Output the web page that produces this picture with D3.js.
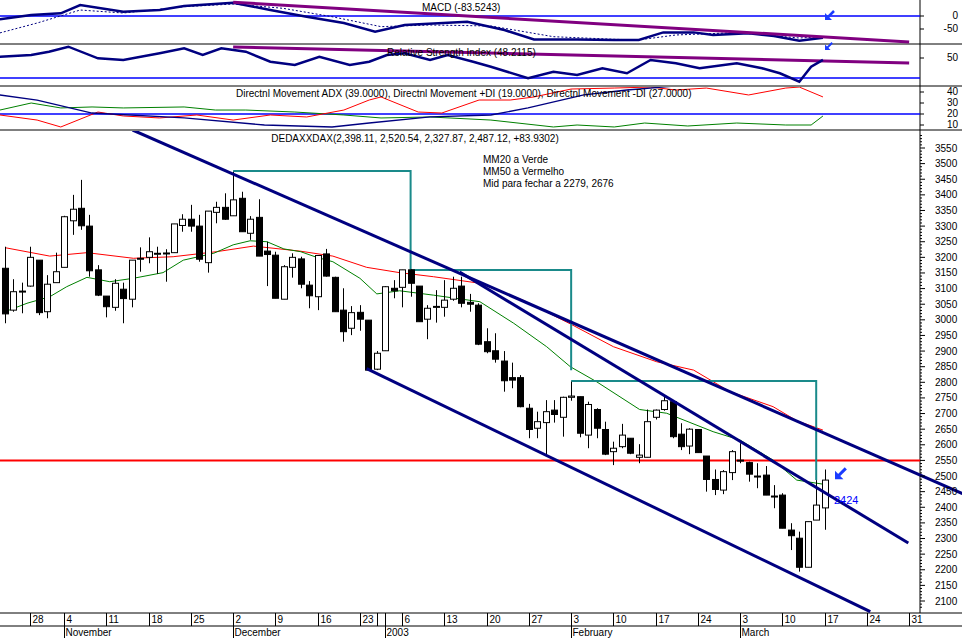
<!DOCTYPE html>
<html><head><meta charset="utf-8">
<script src="https://cdn.jsdelivr.net/npm/d3@7/dist/d3.min.js"></script>
<style>body{margin:0;background:#fff}svg{display:block;font-family:"Liberation Sans",Arial,sans-serif}</style>
</head><body><svg id="c" width="962" height="638"></svg>
<script>
// Candles: [open, high, low, close], index = trading day from Oct 23 2002
const opens  = [3165,3031,3090,3108,3191,3026,3119,3168,3317,3357,3300,3160,3076,3040,3098,3066,3196,3200,3212,3213,3215,3302,3322,3300,3183,3344,3360,3333,3389,3277,3328,3220,3207,3066,3168,3195,3111,3074,3211,3136,3031,2973,3024,2999,2842,2901,3101,3104,3160,3108,3002,3042,3040,3066,3108,3056,3047,2930,2901,2868,2815,2815,2717,2653,2671,2711,2688,2752,2754,2631,2713,2649,2578,2594,2621,2560,2560,2688,2713,2738,2634,2596,2649,2564,2489,2455,2511,2551,2543,2500,2503,2436,2439,2327,2301,2208,2359,2398];
const highs  = [3234,3130,3119,3234,3191,3143,3215,3333,3400,3448,3336,3175,3076,3130,3119,3191,3232,3264,3234,3226,3307,3338,3368,3336,3348,3378,3405,3474,3410,3332,3386,3250,3218,3175,3213,3202,3124,3207,3227,3138,3101,3044,3047,2999,2900,3108,3127,3160,3162,3108,3047,3095,3127,3138,3138,3083,3053,2973,2957,2900,2863,2823,2731,2706,2743,2743,2754,2802,2754,2738,2717,2674,2610,2667,2621,2602,2713,2713,2754,2741,2669,2653,2649,2564,2521,2519,2583,2605,2546,2541,2532,2471,2445,2349,2322,2354,2487,2521];
const lows   = [2989,3026,3021,3106,3015,3005,3119,3168,3272,3288,3138,3076,3008,3029,2989,3040,3154,3181,3147,3122,3215,3282,3282,3186,3151,3309,3320,3333,3282,3256,3204,3108,3069,3066,3135,3101,3037,3031,3138,3026,2930,2951,2965,2839,2839,2901,3069,3040,3074,2994,2938,2991,3010,3061,3040,3026,2919,2893,2863,2770,2781,2720,2621,2621,2567,2671,2626,2741,2624,2589,2621,2567,2535,2589,2570,2541,2560,2681,2709,2621,2583,2570,2575,2450,2439,2442,2487,2541,2482,2461,2439,2397,2333,2263,2194,2208,2359,2328];
const closes = [3019,3090,3092,3200,3023,3114,3154,3330,3354,3301,3157,3079,3042,3117,3068,3191,3197,3218,3213,3214,3307,3322,3300,3194,3348,3360,3322,3384,3282,3322,3204,3209,3069,3170,3200,3114,3077,3206,3140,3026,2962,3023,3002,2839,2893,3106,3093,3160,3117,2994,3037,3043,3063,3101,3053,3050,2922,2898,2874,2805,2807,2722,2649,2674,2706,2697,2752,2756,2637,2729,2653,2570,2589,2631,2573,2567,2674,2711,2741,2626,2594,2650,2575,2489,2457,2514,2578,2548,2506,2498,2439,2434,2333,2309,2208,2354,2407,2487];

// Moving averages: [day index, value]
const mm50 = [[0,3231],[5.3,3204],[9.7,3215],[15.2,3197],[19.9,3202],[25,3218],[29.4,3236],[34.9,3220],[38.8,3204],[42.8,3168],[46.7,3151],[50.7,3138],[56.2,3117],[61.3,3063],[66.9,2987],[72,2914],[77.1,2866],[81.5,2839],[85.8,2770],[90.9,2722],[93.7,2677],[96.8,2647]];
const mm20 = [[0,3026],[2.6,3053],[5.3,3074],[7.3,3106],[9.7,3136],[12.4,3122],[15.2,3133],[18.7,3151],[21.1,3191],[24.7,3213],[27,3240],[29,3253],[31,3250],[33,3227],[35,3218],[36.9,3200],[38.8,3186],[42,3133],[44,3083],[46.7,3093],[50.7,3079],[56.2,3058],[60.2,2989],[64.1,2914],[66.9,2850],[70,2802],[75.1,2713],[78.3,2701],[83.8,2642],[87,2615],[90.9,2551],[93.7,2487],[96.8,2474]];

// Indicator panels: [day index, value]
const macdLine = [[-0.6,-12.7],[3.1,3.8],[6.6,10.4],[8.9,42.3],[14,16.5],[18.3,23],[21.2,38.5],[27,51],[31.4,23],[35.7,-2.7],[40.1,-27],[43.8,-60],[47.3,-34.6],[54.7,-22],[59.1,-54],[62.6,-90],[67.7,-90],[72.1,-92],[75,-92],[77.9,-63],[81.5,-63],[83.8,-73],[88,-66.5],[91,-77],[94,-95],[96.8,-83.5]];
const macdSignal = [[-0.6,-65],[3.8,-27],[8.9,23],[14,11.5],[21.2,35.8],[27,46],[32.9,29.6],[38.7,-2.7],[44.5,-41],[50.3,-34.6],[57.5,-38.5],[64.9,-79.6],[72.1,-89.6],[75,-92],[79.4,-73],[86.6,-64],[94,-84.6],[96.8,-79.6]];
const rsi = [[-0.6,51.3],[3.1,53],[5.2,56.3],[7.5,61.3],[11,49.7],[14,48],[18.3,54.7],[21.2,59.7],[23.4,53],[25.6,59.7],[28.5,56.3],[31.4,46.3],[34.3,43],[37.2,51.3],[40.8,43],[43.1,46.3],[45.2,53],[47.3,54.7],[50.3,48],[52.4,53],[55.4,46.3],[57.5,41.3],[61.9,29.7],[64.9,36.3],[67.7,33],[70.7,39.7],[73.6,34.7],[76.4,48],[79.4,44.7],[82.2,39.7],[86.6,44.7],[89.6,39.7],[91.7,34.7],[94,26.3],[95.4,41.3],[96.8,48.2]];
const adx = [[-0.6,37.3],[3.8,32.7],[10.3,20.9],[21.2,16.4],[30.7,10],[38.7,8.2],[43.1,11.8],[50.3,17.3],[57.5,19.1],[61.9,25.5],[68.5,37.3],[73.6,41.8],[79.4,45.5],[90.3,45.5],[94,49],[96.8,46.4]];
const plusDI = [[-0.6,23.6],[3.1,30],[6.6,25.5],[10.3,26.4],[14,25.5],[21.2,26.4],[24.9,23.6],[28.5,23.6],[34.3,21.8],[40.1,19.1],[44.5,16.4],[50.3,17.3],[57.5,14.5],[64.9,8.2],[67.7,10],[72.1,8.2],[75.7,11.8],[80.8,9.1],[86.6,11.8],[92.4,10],[95.4,10],[96.8,18.2]];
const minusDI = [[-0.6,19.1],[3.8,14.5],[6.6,8.2],[11,21.8],[14,18.2],[18.3,16.4],[22.7,19.1],[27,14.5],[31.4,19.1],[35.7,17.3],[40.1,23.6],[43.1,32.7],[44.5,35.5],[48.9,21.8],[51.7,20.9],[56.1,32.7],[59.8,32.7],[62.6,35.5],[67,42.7],[72.1,43.6],[76.4,44.5],[79.4,41.8],[83,43.6],[88,37.3],[92.4,43.6],[94,44.5],[96.8,35.5]];

// Drawn annotations: endpoints as [day index, value]
const trendLines = [[[15.1,3607.6],[113.3,2443.7]],[[53.8,3153],[106.9,2285.6]],[[42.8,2843.9],[102.4,2065.7]]];
const stepBoxes = [[[27,3476],[48,3476],[48,3159.5],[67,3159.5],[67,2839]],[[67,2804],[96,2804],[96,2487]]];
const macdTrend = [[27,53],[107,-100]];
const rsiTrend = [[27,61],[107,45]];
const resistance = 2550;

const priceTicks = d3.range(2100, 3551, 50);
const weekTicks = [[3,"28"],[7,"4"],[12,"11"],[17,"18"],[22,"25"],[27,"2"],[32,"9"],[37,"16"],[42,"23"],[44,""],[45,""],[47,"6"],[52,"13"],[57,"20"],[62,"27"],[67,"3"],[72,"10"],[77,"17"],[82,"24"],[87,"3"],[92,"10"],[97,"17"],[102,"24"],[107,"31"]];
const monthTicks = [[7,"November"],[27,"December"],[45,"2003"],[67,"February"],[87,"March"]];

const svg = d3.select("#c");
const W = 920;
const x = d3.scaleLinear().domain([0,97]).range([5,824.65]);
const y = d3.scaleLinear().domain([2100,3550]).range([601,148]);
const yM = d3.scaleLinear().domain([-50,0]).range([29,16]);
const yR = d3.scaleLinear().domain([30,50]).range([78,58]);
const yD = d3.scaleLinear().domain([10,40]).range([125,92]);
const NAVY="#000080";

const defs = svg.append("defs");
[["cm",0,0,962,44],["cr",0,44,W,42],["cd",0,87,W,43],["cmain",0,131,962,482]].forEach(c=>
  defs.append("clipPath").attr("id",c[0]).append("rect").attr("x",c[1]).attr("y",c[2]).attr("width",c[3]).attr("height",c[4]));

// panel separators
[44,86,130,613,626].forEach(v=>svg.append("line").attr("x1",0).attr("x2",962).attr("y1",v).attr("y2",v).attr("stroke","#000"));
svg.append("line").attr("x1",W).attr("x2",W).attr("y1",0).attr("y2",613).attr("stroke","#000");

const ln = (sy)=>d3.line().x(d=>x(d[0])).y(d=>sy(d[1]));

// MACD panel
const gM = svg.append("g").attr("clip-path","url(#cm)");
gM.append("line").attr("x1",0).attr("x2",W).attr("y1",yM(0)).attr("y2",yM(0)).attr("stroke","#0000ff").attr("stroke-width",1.5);
gM.append("path").attr("d",ln(yM)(macdSignal)).attr("fill","none").attr("stroke",NAVY).attr("stroke-dasharray","2,2");
gM.append("path").attr("d",ln(yM)(macdLine)).attr("fill","none").attr("stroke",NAVY).attr("stroke-width",2.5);
gM.append("path").attr("d",ln(yM)(macdTrend)).attr("fill","none").attr("stroke","#800080").attr("stroke-width",3);
svg.append("text").attr("x",422).attr("y",11).attr("font-size",10).text("MACD (-83.5243)");
[[0,"0"],[-50,"-50"]].forEach(t=>{svg.append("text").attr("x",958).attr("y",yM(t[0])+3).attr("text-anchor","end").attr("font-size",10).text(t[1]);});

// RSI panel
const gR = svg.append("g").attr("clip-path","url(#cr)");
gR.append("line").attr("x1",0).attr("x2",W).attr("y1",yR(30)).attr("y2",yR(30)).attr("stroke","#0000ff").attr("stroke-width",1.5);
gR.append("path").attr("d",ln(yR)(rsiTrend)).attr("fill","none").attr("stroke","#800080").attr("stroke-width",3);
gR.append("path").attr("d",ln(yR)(rsi)).attr("fill","none").attr("stroke",NAVY).attr("stroke-width",2.5);
svg.append("text").attr("x",387).attr("y",56).attr("font-size",10).text("Relative Strength Index (48.2115)");
svg.append("text").attr("x",958).attr("y",yR(50)+3).attr("text-anchor","end").attr("font-size",10).text("50");

// DMI panel
const gD = svg.append("g").attr("clip-path","url(#cd)");
gD.append("line").attr("x1",0).attr("x2",W).attr("y1",yD(20)).attr("y2",yD(20)).attr("stroke","#0000ff").attr("stroke-width",1.5);
gD.append("path").attr("d",ln(yD)(plusDI)).attr("fill","none").attr("stroke","#008000");
gD.append("path").attr("d",ln(yD)(minusDI)).attr("fill","none").attr("stroke","#ff0000");
gD.append("path").attr("d",ln(yD)(adx)).attr("fill","none").attr("stroke",NAVY).attr("stroke-width",1.3);
svg.append("text").attr("x",236).attr("y",97).attr("font-size",10).text("Directnl Movement ADX (39.0000), Directnl Movement +DI (19.0000), Directnl Movement -DI (27.0000)");
[40,30,20,10].forEach(t=>svg.append("text").attr("x",958).attr("y",yD(t)+3).attr("text-anchor","end").attr("font-size",10).text(t));

// Main panel
const g = svg.append("g").attr("clip-path","url(#cmain)");
g.append("line").attr("x1",0).attr("x2",W).attr("y1",y(resistance)).attr("y2",y(resistance)).attr("stroke","#ff0000").attr("stroke-width",2);
const lm = ln(y);
g.append("path").attr("d",lm(mm50)).attr("fill","none").attr("stroke","#ff0000");
g.append("path").attr("d",lm(mm20)).attr("fill","none").attr("stroke","#008000");
stepBoxes.forEach(b=>g.append("path").attr("d",lm(b)).attr("fill","none").attr("stroke","#1a8a8a").attr("stroke-width",2));
const cg = g.append("g");
opens.forEach((o,i)=>{
  const c=closes[i], cx=Math.round(x(i))+0.5;
  cg.append("line").attr("x1",cx).attr("x2",cx).attr("y1",y(highs[i])).attr("y2",y(lows[i])).attr("stroke","#000");
  const top=y(Math.max(o,c)), bot=y(Math.min(o,c));
  cg.append("rect").attr("x",cx-3).attr("y",top).attr("width",6).attr("height",Math.max(1,bot-top))
    .attr("fill",c<o?"#000":"#fff").attr("stroke","#000");
});
trendLines.forEach(t=>g.append("path").attr("d",lm(t)).attr("fill","none").attr("stroke",NAVY).attr("stroke-width",3));

svg.append("text").attr("x",415).attr("y",142).attr("text-anchor","middle").attr("font-size",10).text("DEDAXXDAX(2,398.11, 2,520.54, 2,327.87, 2,487.12, +83.9302)");
["MM20 a Verde","MM50 a Vermelho","Mid para fechar a 2279, 2676"].forEach((t,k)=>
  svg.append("text").attr("x",483).attr("y",163+k*12).attr("font-size",10).text(t));
svg.append("text").attr("x",834).attr("y",y(2424)+4).attr("font-size",11).attr("fill","#0000ff").text("2424");

// arrows
function arrow(tx,ty,s){
  svg.append("line").attr("x1",tx+2*s).attr("y1",ty-2*s).attr("x2",tx+9*s).attr("y2",ty-9*s).attr("stroke","#1a3cff").attr("stroke-width",2.5*s);
  svg.append("path").attr("d",`M${tx},${ty}L${tx+7*s},${ty}L${tx},${ty-7*s}Z`).attr("fill","#1a3cff");
}
arrow(835,y(2490),1.2);
arrow(825,20,1);
arrow(825,50,0.8);

// price axis
priceTicks.forEach(p=>{
  svg.append("line").attr("x1",W).attr("x2",W+5).attr("y1",y(p)).attr("y2",y(p)).attr("stroke","#000");
  svg.append("text").attr("x",935).attr("y",y(p)+3.5).attr("font-size",10).text(p);
});
d3.range(2080,3600,10).filter(p=>p%50).forEach(p=>svg.append("line").attr("x1",W).attr("x2",W+2).attr("y1",y(p)).attr("y2",y(p)).attr("stroke","#000"));
[[-50],[0]].forEach(t=>svg.append("line").attr("x1",W).attr("x2",W+4).attr("y1",yM(t[0])).attr("y2",yM(t[0])).attr("stroke","#000"));
[40,30,20,10].forEach(t=>svg.append("line").attr("x1",W).attr("x2",W+4).attr("y1",yD(t)).attr("y2",yD(t)).attr("stroke","#000"));
svg.append("line").attr("x1",W).attr("x2",W+4).attr("y1",yR(50)).attr("y2",yR(50)).attr("stroke","#000");

// date axis
weekTicks.forEach(t=>{
  const tx=Math.round(x(t[0]))+0.5;
  svg.append("line").attr("x1",tx).attr("x2",tx).attr("y1",613).attr("y2",626).attr("stroke","#000");
  svg.append("text").attr("x",tx+2).attr("y",623).attr("font-size",10).text(t[1]);
});
monthTicks.forEach(t=>{
  const tx=Math.round(x(t[0]))+0.5;
  svg.append("line").attr("x1",tx).attr("x2",tx).attr("y1",613).attr("y2",638).attr("stroke","#000");
  svg.append("text").attr("x",tx+1).attr("y",636).attr("font-size",10).text(t[1]);
});
</script></body></html>
